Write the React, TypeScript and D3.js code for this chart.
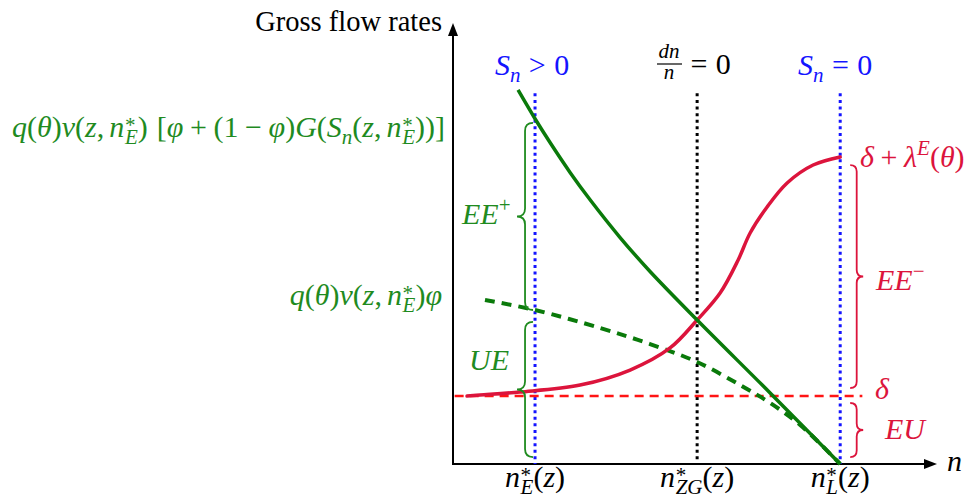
import React from 'react';
import * as d3 from 'd3';

const W = 969;
const H = 499;
const FONT = '"Liberation Serif", "DejaVu Serif", serif';

// ---- data (chart units) ----
const nStar = [1.0, 2.976, 4.72]; // n*_E, n*_ZG, n*_L
const nStarSubs = ['E', 'ZG', 'L'];
const deltaLevel = 0.829;
const vTop = 4.52;

const greenSolidX = [0.793, 1.0, 1.183, 1.427, 1.671, 2.037, 2.402, 2.976, 3.866, 4.72];
const greenSolidY = [4.561, 4.21, 3.92, 3.556, 3.222, 2.762, 2.348, 1.756, 0.866, 0];

const greenDashX = [0.39, 1.0, 1.793, 2.402, 2.976, 3.5, 3.866, 4.232, 4.72];
const greenDashY = [2.0, 1.878, 1.659, 1.463, 1.244, 0.963, 0.744, 0.476, 0];

const redX = [0.171, 0.329, 0.817, 1.549, 2.159, 2.646, 2.976, 3.256, 3.476, 3.622, 3.829, 4.073, 4.39, 4.72];
const redY = [0.829, 0.841, 0.878, 0.963, 1.146, 1.415, 1.756, 2.085, 2.488, 2.817, 3.134, 3.427, 3.646, 3.744];

const deltaLineX = [0.02, 4.99];

// braces [from, to] in y units
const braceEEplus = [1.878, 4.159];
const braceUE = [0.085, 1.732];
const braceEEminus = [0.927, 3.646];
const braceEU = [0.085, 0.744];

const xMax = 5.9;
const yMax = 5.378;

const GREEN_LINE = '#0a7a0a';
const GREEN_TXT = '#1f8b1f';
const CRIMSON = '#dc143c';
const RED = '#ff1414';
const BLUE = '#1414ff';

// ---- text measurement ----
let ctx: CanvasRenderingContext2D | null = null;
function measure(t: string, fs: number, it?: boolean) {
  if (!ctx) ctx = document.createElement('canvas').getContext('2d');
  if (!ctx) return t.length * fs * 0.5;
  ctx.font = `${it ? 'italic ' : ''}${fs}px ${FONT}`;
  return ctx.measureText(t).width;
}

type Seg = { t: string; it?: boolean; k?: 'sup' | 'sub' | 'star'; stack?: boolean; b?: number; a?: number };
const I = (t: string, o: Partial<Seg> = {}): Seg => ({ t, it: true, ...o });
const R = (t: string, o: Partial<Seg> = {}): Seg => ({ t, ...o });
const nst = (sub: string): Seg[] => [I('n', { a: 0.02 }), R('*', { k: 'star' }), I(sub, { k: 'sub', stack: true })];
const op = (t: string, s = 0.22) => R(t, { b: s, a: s });

function layout(segs: Seg[], size: number) {
  let cursor = 0;
  let prevStart = 0;
  let prevW = 0;
  const items: { t: string; x: number; dy: number; fs: number; it?: boolean }[] = [];
  segs.forEach((s) => {
    const fs = s.k ? size * 0.7 : size;
    const w = measure(s.t, fs, s.it);
    if (s.b) cursor += s.b * size;
    let xs: number;
    if (s.stack) {
      xs = prevStart;
      cursor = prevStart + Math.max(prevW, w);
    } else {
      xs = cursor;
      cursor += w;
    }
    if (s.a) cursor += s.a * size;
    const dy = s.k === 'sup' ? -0.4 * size : s.k === 'sub' ? 0.24 * size : s.k === 'star' ? -0.16 * size : 0;
    items.push({ t: s.t, x: xs, dy, fs, it: s.it });
    prevStart = xs;
    prevW = w;
  });
  return { items, width: cursor };
}

function Rich({ segs, x, y, size, color, anchor = 'start' }: { segs: Seg[]; x: number; y: number; size: number; color: string; anchor?: string }) {
  const { items, width } = layout(segs, size);
  const off = anchor === 'end' ? -width : anchor === 'middle' ? -width / 2 : 0;
  return (
    <text fill={color} fontFamily={FONT} fontSize={size} style={{ whiteSpace: 'pre' }}>
      {items.map((it, i) => (
        <tspan key={i} x={x + off + it.x} y={y + it.dy} fontSize={it.fs} fontStyle={it.it ? 'italic' : 'normal'}>
          {it.t}
        </tspan>
      ))}
    </text>
  );
}

// labels
const longLabel: Seg[] = [
  I('q'), R('('), I('θ'), R(')'), I('v'), R('('), I('z'), R(',', { a: 0.17 }), ...nst('E'), R(')'),
  R('[', { b: 0.3 }), I('φ'), op('+'), R('(1'), op('−'), I('φ'), R(')'), I('G'), R('('), I('S'), I('n', { k: 'sub' }),
  R('('), I('z'), R(',', { a: 0.17 }), ...nst('E'), R('))'), R(']'),
];
const shortLabel: Seg[] = [I('q'), R('('), I('θ'), R(')'), I('v'), R('('), I('z'), R(',', { a: 0.17 }), ...nst('E'), R(')'), I('φ')];
const eePlus: Seg[] = [I('EE'), R('+', { k: 'sup' })];
const ueLbl: Seg[] = [I('UE')];
const eeMinus: Seg[] = [I('EE'), R('−', { k: 'sup' })];
const euLbl: Seg[] = [I('EU')];
const deltaLbl: Seg[] = [I('δ')];
const topRed: Seg[] = [I('δ'), op('+'), I('λ'), I('E', { k: 'sup' }), R('('), I('θ'), R(')')];
const snPos: Seg[] = [I('S'), I('n', { k: 'sub' }), op('>', 0.28), R('0')];
const snZero: Seg[] = [I('S'), I('n', { k: 'sub' }), op('=', 0.28), R('0')];
const eqZero: Seg[] = [op('=', 0.28), R('0')];

function braceV(x0: number, y1: number, y2: number, a: number) {
  const h = a / 2;
  const ym = (y1 + y2) / 2;
  const q = Math.abs(a) / 2;
  return `M${x0},${y1} Q${x0 + h},${y1} ${x0 + h},${y1 + q} L${x0 + h},${ym - q} Q${x0 + h},${ym} ${x0 + a},${ym} Q${x0 + h},${ym} ${x0 + h},${ym + q} L${x0 + h},${y2 - q} Q${x0 + h},${y2} ${x0},${y2}`;
}

export default function App() {
  const x = d3.scaleLinear().domain([0, xMax]).range([453, 937]);
  const y = d3.scaleLinear().domain([0, yMax]).range([464, 23]);

  const line = d3
    .line<[number, number]>()
    .x((d) => x(d[0]))
    .y((d) => y(d[1]))
    .curve(d3.curveCatmullRom.alpha(0.5));

  const solid = line(greenSolidX.map((v, i) => [v, greenSolidY[i]]) as [number, number][]) || '';
  const dashed = line(greenDashX.map((v, i) => [v, greenDashY[i]]) as [number, number][]) || '';
  const red = line(redX.map((v, i) => [v, redY[i]]) as [number, number][]) || '';

  const x0 = x(0);
  const y0 = y(0);
  const MS = 30;

  const xE = x(nStar[0]);
  const xZ = x(nStar[1]);
  const xL = x(nStar[2]);

  return (
    <svg width={W} height={H} style={{ position: 'absolute', left: 0, top: 0, background: '#fff' }}>
      <rect width={W} height={H} fill="#fff" />
      {/* axes */}
      <line x1={x0} y1={y0} x2={x(xMax) - 8} y2={y0} stroke="#000" strokeWidth={2} />
      <line x1={x0} y1={y0 + 1} x2={x0} y2={y(yMax) + 8} stroke="#000" strokeWidth={2} />
      <path d={`M${x(xMax)},${y0} L${x(xMax) - 13},${y0 - 5} L${x(xMax) - 13},${y0 + 5} Z`} fill="#000" />
      <path d={`M${x0},${y(yMax)} L${x0 - 5},${y(yMax) + 13} L${x0 + 5},${y(yMax) + 13} Z`} fill="#000" />

      {/* vertical dotted lines */}
      {nStar.map((v, i) => (
        <line key={i} x1={x(v)} x2={x(v)} y1={y(vTop)} y2={y0} stroke={i === 1 ? '#000' : BLUE} strokeWidth={3} strokeDasharray="3 3.6" />
      ))}

      {/* delta line */}
      <line x1={x(deltaLineX[0])} x2={x(deltaLineX[1])} y1={y(deltaLevel)} y2={y(deltaLevel)} stroke={RED} strokeWidth={2.5} strokeDasharray="9 6" />

      {/* curves */}
      <path d={dashed} fill="none" stroke={GREEN_LINE} strokeWidth={4} strokeDasharray="10 7" />
      <path d={red} fill="none" stroke={CRIMSON} strokeWidth={3.5} strokeLinecap="round" />
      <path d={solid} fill="none" stroke={GREEN_LINE} strokeWidth={3.5} />

      {/* braces */}
      <path d={braceV(xE - 2, y(braceEEplus[1]), y(braceEEplus[0]), -16)} fill="none" stroke={GREEN_TXT} strokeWidth={1.8} />
      <path d={braceV(xE - 2, y(braceUE[1]), y(braceUE[0]), -16)} fill="none" stroke={GREEN_TXT} strokeWidth={1.8} />
      <path d={braceV(xL + 10, y(braceEEminus[1]), y(braceEEminus[0]), 13)} fill="none" stroke={CRIMSON} strokeWidth={1.8} />
      <path d={braceV(xL + 10, y(braceEU[1]), y(braceEU[0]), 13)} fill="none" stroke={CRIMSON} strokeWidth={1.8} />

      {/* axis labels */}
      <text x={442} y={31} textAnchor="end" fontSize={28.5} fontFamily={FONT} fill="#000">Gross flow rates</text>
      <text x={947} y={471} fontSize={30} fontStyle="italic" fontFamily={FONT} fill="#000">n</text>

      {/* tick labels */}
      {nStar.map((v, i) => (
        <Rich key={i} segs={[...nst(nStarSubs[i]), R('('), I('z'), R(')')]} x={x(v)} y={487} size={MS} color="#000" anchor="middle" />
      ))}

      {/* top labels */}
      <Rich segs={snPos} x={xE - 3} y={75} size={MS} color={BLUE} anchor="middle" />
      <Rich segs={snZero} x={xL - 5} y={75} size={MS} color={BLUE} anchor="middle" />
      <g>
        <text x={669} y={58} textAnchor="middle" fontSize={21} fontStyle="italic" fontFamily={FONT}>dn</text>
        <line x1={657} x2={682} y1={64} y2={64} stroke="#000" strokeWidth={1.2} />
        <text x={669} y={79} textAnchor="middle" fontSize={21} fontStyle="italic" fontFamily={FONT}>n</text>
        <Rich segs={eqZero} x={682} y={74} size={MS} color="#000" />
      </g>

      {/* left labels */}
      <Rich segs={longLabel} x={445} y={137} size={MS} color={GREEN_TXT} anchor="end" />
      <Rich segs={shortLabel} x={442} y={305} size={MS} color={GREEN_TXT} anchor="end" />
      <Rich segs={eePlus} x={462} y={224} size={MS} color={GREEN_TXT} />
      <Rich segs={ueLbl} x={469} y={370} size={MS} color={GREEN_TXT} />

      {/* right labels */}
      <Rich segs={topRed} x={860} y={167} size={MS} color={CRIMSON} />
      <Rich segs={eeMinus} x={876} y={290} size={MS} color={CRIMSON} />
      <Rich segs={deltaLbl} x={875} y={399} size={MS} color={CRIMSON} />
      <Rich segs={euLbl} x={885} y={439} size={MS} color={CRIMSON} />
    </svg>
  );
}
